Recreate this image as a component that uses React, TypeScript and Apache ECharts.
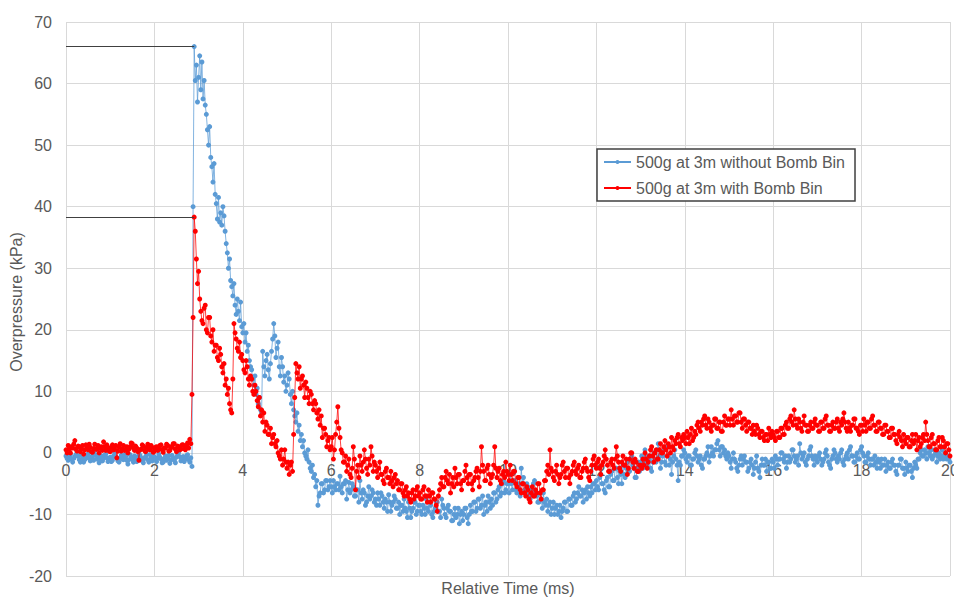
import React, { useEffect, useRef } from "react";
import * as echarts from "echarts";

// Both traces are sampled every TIME_STEP ms; each row below covers one millisecond (row k starts at k ms)
const TIME_STEP = 0.025;

// 500g at 3m without Bomb Bin (kPa)
const BLUE_0 = [-0.5, -0.9, -1.2, -0.6, -0.3, -1.0, -1.5, -0.9, -0.6, -0.3, 0.2, -0.5, -1.1, -1.5, -0.4, -0.9, -1.5, -1.1, -0.8, -0.3, -0.2, -0.9, -1.3, -0.6, -0.6, -1.2, 0.3, -0.4, -1.0, -0.5, -1.6, -1.0, -0.5, -1.3, -0.9, -0.4, -0.2, -0.8, -1.4, -0.9];
const BLUE_1 = [-0.7, -1.4, -1.2, -0.5, 0.1, -0.6, -0.9, -1.3, -1.5, -0.8, -0.4, -1.0, -1.1, -0.3, -0.6, -1.2, -1.8, -1.1, -0.3, -0.7, -1.0, -1.5, -0.5, -0.9, -1.4, -0.6, 0.2, -0.4, -0.8, -1.3, -1.6, -0.9, -0.6, -0.2, -1.1, -1.5, -0.3, -0.8, -1.3, -0.7];
const BLUE_2 = [-0.6, -1.0, -1.4, -0.8, -0.2, -0.7, -1.0, -1.6, -1.5, -0.9, -0.5, -1.2, -0.9, -0.4, -1.7, -1.1, -0.4, -0.8, -1.2, -1.6, -0.7, -0.2, 0.1, -0.6, -1.3, -0.9, -0.6, -1.4, -1.0, -0.5, -0.3, -1.1, -1.5, -0.8, -2.2, 40, 66.0, 60.5, 63, 57];
const BLUE_3 = [61, 64.5, 59, 63.5, 57.5, 60.5, 56.5, 55, 52.5, 50, 53, 48, 46.5, 44, 47, 42, 40.5, 38, 41.5, 37.5, 39, 37, 40, 38.5, 36, 34, 32.5, 30, 31.5, 28, 27, 25.5, 27.5, 24, 22.5, 25, 23, 21.5, 24.5, 20.5];
const BLUE_4 = [19.5, 21, 18, 19.5, 16.5, 17.5, 15, 14, 13.5, 12, 11, 12.5, 9.5, 10.5, 8, 9, 7, 6.5, 16.5, 14, 12.5, 15, 16, 13.5, 12, 14.5, 16.5, 18.5, 21, 19, 15.5, 17, 18, 14, 12.5, 15.5, 14, 11.5, 12.5, 10];
const BLUE_5 = [11, 13, 12, 9.5, 8, 10, 7, 6, 5, 6.5, 3.5, 4.5, 2, 3, 1, 2, 0, -0.5, -1, 0.5, -1.5, -2.5, -3, -2, -4, -3.5, -5.5, -4.5, -8.5, -7, -6.5, -5, -5, -6.5, -6, -4.5, -4.5, -6, -5.5, -4.5];
const BLUE_6 = [-5.5, -6.5, -4.5, -5.5, -6, -5, -5, -6, -3.8, -5.5, -6.5, -5, -5, -4.5, -7.5, -6, -4.8, -6.5, -6, -5, -5.5, -7, -7, -6, -6, -8, -4.5, -6.5, -7.5, -6, -6.5, -8.5, -8, -7, -5.5, -7.5, -7, -6, -6.5, -8];
const BLUE_7 = [-7.5, -8.5, -6.5, -7.5, -8.5, -6.5, -7, -8, -9, -7.5, -8, -9.5, -6.8, -8, -9.5, -8.5, -8, -7, -7.5, -9, -9, -8, -10, -8.5, -8.5, -9.5, -7.5, -9, -9.5, -10.5, -8, -9, -10.5, -9.5, -9, -8, -8, -10, -9.5, -8.5];
const BLUE_8 = [-8.5, -9.5, -10, -8.5, -9, -10, -7.5, -9, -9.5, -8, -8.5, -10, -10.5, -9.5, -9, -8, -8, -9.5, -9.5, -10.5, -7.5, -8.5, -9, -10, -10.5, -9, -8.5, -9.5, -9.5, -11, -11, -10, -9, -10.5, -10, -9, -11.5, -10, -9.5, -11];
const BLUE_9 = [-10, -9, -9, -10.5, -11.5, -10, -8.5, -9.5, -9.5, -8, -8, -9.5, -9, -7.5, -7.5, -9, -8.5, -7, -10, -8.5, -8, -9.5, -7, -8, -9, -7.5, -8.5, -6.5, -6.5, -8, -7.5, -6, -5.5, -7, -6.5, -5, -4.5, -6.5, -6, -5];
const BLUE_10 = [-5, -6.5, -3.5, -5, -6, -4.5, -4.5, -6, -6.5, -5.5, -5, -7, -2.5, -5, -4, -6, -6.5, -5, -5.5, -7, -7.5, -6, -6, -5, -4.5, -6.5, -7, -8, -8, -6.5, -7.5, -9, -6.5, -8, -8.5, -7.5, -9.5, -8.5, -8, -10];
const BLUE_11 = [-9, -8, -10, -9, -8.5, -10, -9.5, -8.5, -10.5, -9.5, -9, -8, -8, -9.5, -9.5, -7.5, -7.5, -8.5, -8.5, -7, -6.5, -8, -7.5, -6.5, -5.5, -7, -7, -6, -8, -6.5, -6, -7.5, -5.5, -6.5, -7, -5.5, -6.5, -5, -5, -6];
const BLUE_12 = [-4.5, -5.5, -6, -4, -3.5, -5, -5, -6, -6.5, -4.5, -4, -5.5, -5.5, -3.5, -3, -4.5, -4.5, -2.5, -2.5, -4, -5, -3, -3.5, -5, -2, -3.5, -4, -2.5, -1.5, -3, -3, -1, -0.5, -2, -2.5, -4, -4, -2.5, -1.5, -3];
const BLUE_13 = [-1.5, -0.5, -2.5, -1, 0.5, -1.5, -2, -0.5, -1, -2.5, -3, -1.5, 0, -1, -1.5, 0.5, 1.5, -0.5, -2.5, -1.5, -0.5, 0.5, -1.5, -2, 1, -0.5, -2, -1, -3.5, -1.5, -0.5, 0.5, -1, -2, -4.5, -1.5, -2, -0.5, -0.5, 0.5];
const BLUE_14 = [0, -1, -1.5, -0.5, -0.5, -2, -2, -1, -1, 0, 0.5, -0.5, -1.5, -1, -0.5, -2, -2.5, -1, -1, -0.5, 0, 1, -1.5, -0.5, 1, 0, -0.5, 0.5, 0.5, 1.5, 2, 0.5, -0.5, 1, 1, 0, 0.5, -0.5, -1, 0];
const BLUE_15 = [-0.5, -1.5, -2.5, -1, 0, -1, -1.5, -2.5, -3, -2, -1, -0.5, -2, -1, -0.5, -1.5, -1.5, -3, -2.5, -1.5, -1, -2, -3.5, -2.5, -1.5, -0.5, -2.5, -3, -4, -2, -1, -2, -2, -1, -3, -1.5, -1.5, -2.5, -2.5, -1];
const BLUE_16 = [-1.5, -2.5, -0.5, -1, -2, -1, -1, 0, 0, -1, -1.5, -0.5, -2.5, -1.5, -0.5, -1.5, -1, 0.5, 0.5, -0.5, -1.5, -1, -0.5, -2, 1.5, 0, -1, -0.5, 0, -1.5, -2, -1, -0.5, 0.5, 1, -0.5, -1, -2, -0.5, -1];
const BLUE_17 = [-1.5, -0.5, 0, -1, -2, -1.5, -1, 0, 0.5, -0.5, -1.5, -2, -2.5, -1, -0.5, 0.5, 0, -1, -1.5, -0.5, -1, 0, 0.5, -1.5, -2, -1, -0.5, 0, -1, 0.5, 1, -0.5, -0.5, -1.5, -1.5, -0.5, 0, -1, -1, 0.5];
const BLUE_18 = [1, 0, -0.5, -1.5, -1.5, -0.5, 0, -1, -2, -1, -1, -2, -0.5, -1.5, -2.5, -1, -1.5, -2.5, -1, -2, -2, -1, -3, -2, -1.5, -2.5, -2.5, -1.5, -1, -2, -2, -3, -3.5, -2, -2, -1, -1, -2.5, -2.5, -3.5];
const BLUE_19 = [-1.5, -2.5, -3, -2, -2, -3, -4, -2.5, -1.5, -2, -2.5, -1, -1, 0, 0.5, -0.5, -0.5, 0.5, 0, -1, 1, 0, -0.5, 0.5, -1, -0.5, 0.5, 0, -1.5, -0.5, 0, -1, -0.5, 0.5, -1, -0.5, 0, -1, -0.5, -1, -1.5];

// 500g at 3m with Bomb Bin (kPa)
const RED_0 = [0.5, 0, 1.2, 0.6, 0, 1, 0.8, 1.4, 2, 0.6, 0.3, 1.1, 1, 0.2, 0.6, 1.2, -0.2, 0.5, 1.3, 0.8, 0.5, 1.4, 0.9, 0.2, 0.1, 0.7, 1.4, 0.6, 0.6, 1.2, 0, 0.8, 1, 0.4, 1.8, 1, 0.4, 1.3, 0.9, 0.3];
const RED_1 = [0.2, 0.9, 1.3, 0.5, 0.6, 1.2, -0.8, 0.3, 0.9, 1.5, 0.3, 0.7, 1.2, 0.4, 0.5, 1, 0, 0.6, 1, 1.6, 1.5, 0.8, 0.4, 1.1, 0.8, 0.2, -1.2, 0.5, 0.6, 1.3, 1.1, 0.4, 0.2, 0.9, 1.4, 0.6, 0.5, 1.2, 0.9, 0.1];
const RED_2 = [0.3, 0.9, 1, 0.4, 0.6, 1.2, 1.3, 0.5, 0.1, 0.8, 0.8, 1.4, 1.2, 0.3, 0.4, 1, 0.9, 1.5, 1.5, 0.6, 0.2, 1.1, 1, 0.5, 0.6, 1.3, 1.3, 0.7, 0.5, 1.2, 1.6, 0.8, 2.2, 1.5, 9.5, 22, 38.3, 36, 31.5, 27.5];
const RED_3 = [29.5, 25, 23, 21.5, 21, 23.5, 24, 20, 19.5, 22, 22, 19, 18, 20, 16.5, 17.5, 17.5, 15.5, 15, 17, 16, 14, 13, 14.5, 11, 12, 9.5, 10.5, 8, 7, 6.5, 12, 21, 19.5, 18.5, 17, 16.5, 18, 15.5, 16];
const RED_4 = [15, 13.5, 13, 15, 14, 12, 11, 12.5, 12, 10, 9.5, 11, 10, 8.5, 7.5, 9, 6, 7, 5, 6.5, 3.5, 5, 4.5, 3, 3, 4, 1.5, 2.5, 3, 1.5, 1, 2, 0, -0.5, -1, 0.5, -2, -1, 0.5, -1.5];
const RED_5 = [-2.5, -1.5, -3.5, -2, -1.5, -3, 3, 9, 14.5, 13, 12, 14, 10.5, 12, 12.5, 11, 9, 11.5, 10.5, 9, 8, 10, 9.5, 8, 7, 8.5, 8, 6.5, 5.5, 7, 4.5, 6, 2.5, 4, 4, 3, 1, 2, 2.5, 0.5];
const RED_6 = [1, 2.5, -1, 0.5, 3, 5, 7.5, 4, 2.5, 0.5, 0, -1.5, -1.5, -0.5, -3, -2, -1, -3.5, -4, -2.5, 1, -1, -6, -3, -2, -4, -0.5, -2, -3, -1.5, 0.5, -1, -2.5, -3.5, -1, -2, 1, -0.5, -3, -1.5];
const RED_7 = [-2, -3, -4, -2.5, -1.5, -3.5, -3.5, -4.5, -5, -3, -2.5, -4, -4, -5, -3, -4.5, -5.5, -4, -3.5, -5, -4.5, -6, -6, -5, -5, -6.5, -7, -6, -5.5, -7, -6.5, -7.5, -8, -6.5, -6, -7.5, -7, -6, -5.5, -7];
const RED_8 = [-6.5, -7.5, -7.5, -6, -5.5, -7, -7, -8, -6, -7, -8, -6.5, -6.5, -7.5, -7.5, -8.5, -9.5, -7, -6, -5, -4, -5.5, -5.5, -4, -3, -4.5, -5, -3.5, -6.5, -5, -4, -5.5, -2.5, -4, -5, -3.5, -3.5, -5, -6, -4.5];
const RED_9 = [-4.5, -3, -2, -4, -5, -3.5, -3.5, -5, -6, -4.5, -4, -3, -2.5, -4, -5.5, -3, 1, -2, -3, -4.5, -4.5, -2.5, -2, -3.5, -5, -4, -3.5, -2, 1, -2.5, -4, -3, -2.5, -4.5, -5, -3.5, -3, -4, -1.5, -3];
const RED_10 = [-3.5, -4.5, -2, -3.5, -4.5, -3, -3, -5, -5.5, -4, -4, -6, -6.5, -5, -5, -6.5, -7, -5.5, -6, -7.5, -8, -6.5, -5.5, -7, -7, -6, -6.5, -5, -5, -6.5, -7.5, -6, -6, -4.5, -4.5, -3, -2, -3.5, 0.5, -2.5];
const RED_11 = [-3, -4, -4.5, -3, -2, -3.5, -5, -4, -3.5, -2, -1.5, -3, -4, -2.5, -2.5, -4, -5, -3.5, -3, -2, -1.5, -3, -3.5, -2.5, -2, -4, -4, -3, -2.5, -1.5, -1, -2.5, -3, -4, -4.5, -3, -2, -1, -0.5, -2];
const RED_12 = [-2.5, -1.5, -1, -2.5, -3.5, -2, -1.5, -0.5, 0.5, -1, -2, -3, -3, -1.5, -1, -2, -2.5, -1, 1, -0.5, -1.5, -2.5, -3, -1.5, -0.5, -2, -2, -1, -3.5, -2.5, -1, 0, 0, -1.5, -2.5, -1, -1.5, -3, -3, -2];
const RED_13 = [-2, -2.5, -1, -2, 0, -1, -2.5, -1.5, -0.5, 0.5, 1, -0.5, -1.5, 0, 0.5, -1, -1, 0.5, 1.5, 0, 0, 1, 2, 0.5, -0.5, 1.5, 1, 0, 2.5, 1, 0.5, 2, 1.5, 2.5, 3, 1.5, 1, 2.5, 2, 3];
const RED_14 = [2.5, 1.5, 3.5, 2.5, 1.5, 3, 4, 2, 2.5, 3.5, 3, 4.5, 5, 4, 3.5, 5, 4.5, 5.5, 6, 4.5, 4, 5.5, 5, 4, 3.5, 4.5, 4.5, 5.5, 5.5, 4, 4, 5, 5, 3.5, 3.5, 5, 6, 4.5, 4.5, 5.5];
const RED_15 = [5.5, 4.5, 7, 5.5, 4.5, 6, 6, 5, 5, 6.5, 6.5, 5, 4, 5.5, 5.5, 4.5, 3.5, 5, 5, 4, 4, 3, 4.5, 3.5, 3, 4.5, 4, 3, 2.5, 3.5, 3.5, 2.5, 2, 3, 3, 2, 4, 3, 2.5, 3.5];
const RED_16 = [3, 2.5, 2, 3.5, 3.5, 2.5, 2.5, 4, 4, 3, 3, 4.5, 5, 4, 4, 5.5, 6, 5, 4.5, 7, 5.5, 4.5, 4, 5.5, 5, 4, 3.5, 5, 6, 4.5, 4.5, 3.5, 3.5, 4.5, 5, 4, 4, 5, 5.5, 4.5];
const RED_17 = [4.5, 3.5, 3.5, 5, 5, 4, 4, 5.5, 6, 4.5, 4.5, 3.5, 3.5, 4.5, 5, 4, 4, 5, 5.5, 4, 3.5, 5, 4.5, 5.5, 6.5, 5, 4, 3.5, 5, 4, 3.5, 4.5, 4.5, 5.5, 5.5, 4, 4, 3.5, 3, 4.5];
const RED_18 = [4.5, 3.5, 5.5, 4.5, 3.5, 5, 5, 4, 4, 5.5, 6, 4.5, 4.5, 3.5, 3.5, 5, 5, 4, 4, 3, 3, 4.5, 4.5, 3.5, 3.5, 2.5, 2.5, 4, 4, 3, 3, 2, 1.5, 3, 3.5, 2.5, 2, 1, 3, 2];
const RED_19 = [1.5, 2.5, 2.5, 1, 1, 2, 3, 1.5, 2, 3, 0.5, 2, 2.5, 1, 1.5, 2.5, 3, 2, 5, 3, 2, 1, 1, 2.5, 3, 1.5, 1.5, 0.5, 0.5, 2, 2.5, 1, 1, 2.5, 2, 1, 0, 1.5, 1.5, 0.5, -0.5];

const BLUE_ROWS = [
  BLUE_0, BLUE_1, BLUE_2, BLUE_3, BLUE_4, BLUE_5, BLUE_6, BLUE_7, BLUE_8, BLUE_9,
  BLUE_10, BLUE_11, BLUE_12, BLUE_13, BLUE_14, BLUE_15, BLUE_16, BLUE_17, BLUE_18, BLUE_19,
];
const RED_ROWS = [
  RED_0, RED_1, RED_2, RED_3, RED_4, RED_5, RED_6, RED_7, RED_8, RED_9,
  RED_10, RED_11, RED_12, RED_13, RED_14, RED_15, RED_16, RED_17, RED_18, RED_19,
];

const SERIES_NAMES = ["500g at 3m without Bomb Bin", "500g at 3m with Bomb Bin"];
const X_AXIS_TITLE = "Relative Time (ms)";
const Y_AXIS_TITLE = "Overpressure (kPa)";
const X_MIN = 0, X_MAX = 20, X_STEP = 2;
const Y_MIN = -20, Y_MAX = 70, Y_STEP = 10;

const toPairs = (rows: number[][]) => {
  const out: number[][] = [];
  rows.forEach((row, k) => {
    row.forEach((v, j) => {
      out.push([Math.round((k + j * TIME_STEP) * 1000) / 1000, v]);
    });
  });
  return out;
};

const peakLine = (pairs: number[][]) => {
  let best = pairs[0];
  for (const p of pairs) if (p[1] > best[1]) best = p;
  return [[{ coord: [X_MIN, best[1]] }, { coord: [best[0], best[1]] }]];
};

const FONT = "'Liberation Sans', Arial, sans-serif";
const TEXT_COLOR = "#595959";
const GRID_COLOR = "#d9d9d9";
const W = 954, H = 597;
const GRID = { left: 66, right: 4, top: 22, bottom: 21 };

export default function App() {
  const ref = useRef<HTMLDivElement>(null);
  useEffect(() => {
    if (!ref.current) return;
    const chart = echarts.init(ref.current, undefined, { renderer: "svg" });
    const blue = toPairs(BLUE_ROWS);
    const red = toPairs(RED_ROWS);
    const gridH = H - GRID.top - GRID.bottom;
    const zeroOffset = -(gridH * (0 - Y_MIN)) / (Y_MAX - Y_MIN);
    const markLineBase = {
      silent: true,
      symbol: ["none", "none"],
      label: { show: false },
      lineStyle: { color: "#404040", width: 1, type: "solid" },
      emphasis: { disabled: true },
    };
    chart.setOption({
      animation: false,
      backgroundColor: "#ffffff",
      textStyle: { fontFamily: FONT },
      grid: { ...GRID, containLabel: false, outerBoundsMode: "none" },
      legend: {
        left: 597,
        top: 149,
        orient: "vertical",
        backgroundColor: "#ffffff",
        borderColor: "#404040",
        borderWidth: 1.5,
        borderRadius: 0,
        padding: [4, 10, 4, 6],
        itemGap: 8,
        itemWidth: 27,
        itemHeight: 5,
        textStyle: { fontFamily: FONT, fontSize: 16, color: TEXT_COLOR, lineHeight: 18 },
        data: SERIES_NAMES,
      },
      xAxis: {
        type: "value",
        min: X_MIN,
        max: X_MAX,
        interval: X_STEP,
        offset: zeroOffset,
        axisLine: { show: true, onZero: false, lineStyle: { color: GRID_COLOR, width: 1 } },
        axisTick: { show: false },
        axisLabel: { fontFamily: FONT, fontSize: 16, color: TEXT_COLOR, margin: 10 },
        splitLine: { show: true, lineStyle: { color: GRID_COLOR, width: 1 } },
      },
      yAxis: {
        type: "value",
        min: Y_MIN,
        max: Y_MAX,
        interval: Y_STEP,
        axisLine: { show: false },
        axisTick: { show: false },
        axisLabel: { fontFamily: FONT, fontSize: 16, color: TEXT_COLOR, margin: 14 },
        splitLine: { show: true, lineStyle: { color: GRID_COLOR, width: 1 } },
      },
      graphic: [
        {
          type: "text",
          x: 16,
          y: 302,
          rotation: Math.PI / 2,
          style: {
            text: Y_AXIS_TITLE,
            fill: TEXT_COLOR,
            font: `16px ${FONT}`,
            align: "center",
            verticalAlign: "middle",
          },
        },
        {
          type: "text",
          x: 508,
          y: 588,
          style: {
            text: X_AXIS_TITLE,
            fill: TEXT_COLOR,
            font: `16px ${FONT}`,
            align: "center",
            verticalAlign: "middle",
          },
        },
      ],
      series: [
        {
          name: SERIES_NAMES[0],
          type: "line",
          data: blue,
          symbol: "circle",
          symbolSize: 5,
          showSymbol: true,
          lineStyle: { color: "#5B9BD5", width: 0.75 },
          itemStyle: { color: "#5B9BD5" },
          emphasis: { disabled: true },
          markLine: { ...markLineBase, data: peakLine(blue) },
          z: 2,
        },
        {
          name: SERIES_NAMES[1],
          type: "line",
          data: red,
          symbol: "circle",
          symbolSize: 5,
          showSymbol: true,
          lineStyle: { color: "#FF0000", width: 0.75 },
          itemStyle: { color: "#FF0000" },
          emphasis: { disabled: true },
          markLine: { ...markLineBase, data: peakLine(red) },
          z: 3,
        },
      ],
    });
    return () => chart.dispose();
  }, []);
  return (
    <div
      ref={ref}
      style={{ position: "fixed", left: 0, top: 0, width: W, height: H }}
    />
  );
}
